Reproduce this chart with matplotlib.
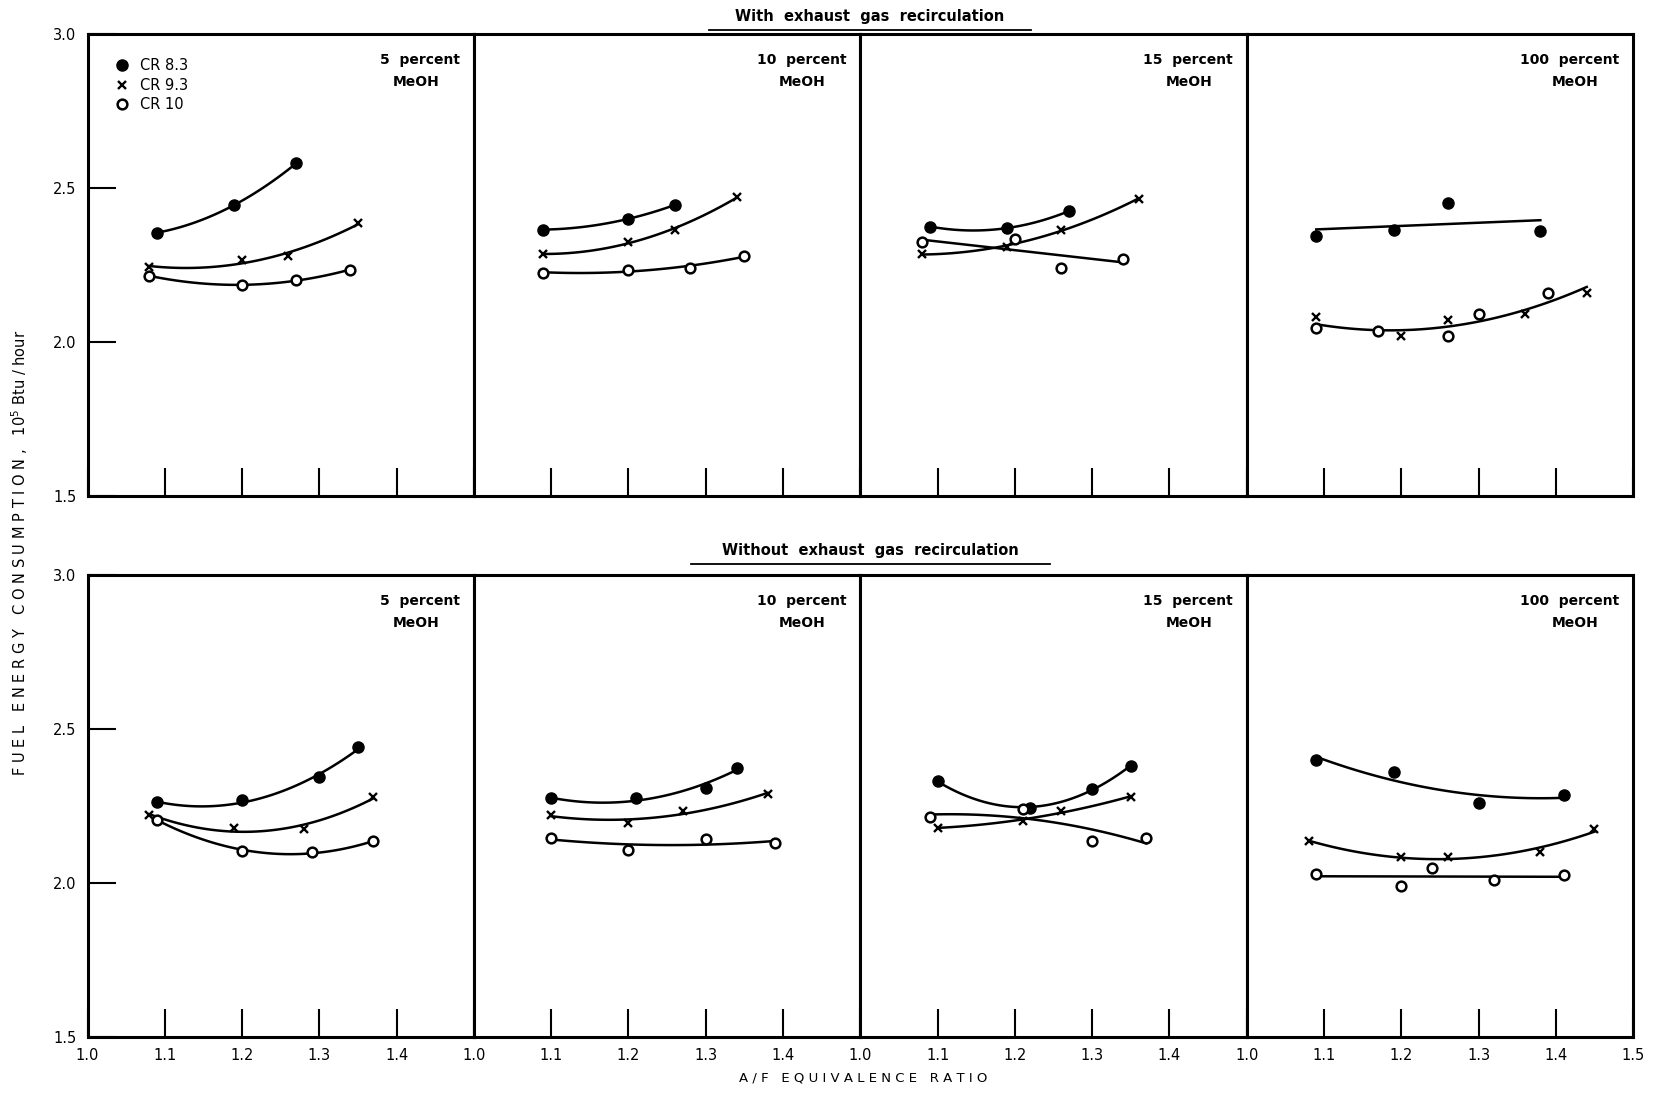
import numpy as np
import matplotlib
matplotlib.use('Agg')
import matplotlib.pyplot as plt
from matplotlib.lines import Line2D
from matplotlib.ticker import FormatStrFormatter

# A/F equivalence ratio (x) vs fuel energy consumption, 10^5 Btu/hr (y)
# each panel: [CR 8.3, CR 9.3, CR 10]
mix_pct = ['5', '10', '15', '100']
cr_labels = ['CR 8.3', 'CR 9.3', 'CR 10']
row_titles = ['With exhaust gas recirculation', 'Without exhaust gas recirculation']

# --- with exhaust gas recirculation ---
egr05_x = [[1.09, 1.19, 1.27], [1.08, 1.20, 1.26, 1.35], [1.08, 1.20, 1.27, 1.34]]
egr05_y = [[2.355, 2.445, 2.58], [2.245, 2.265, 2.28, 2.385], [2.215, 2.185, 2.20, 2.235]]
egr10_x = [[1.09, 1.20, 1.26], [1.09, 1.20, 1.26, 1.34], [1.09, 1.20, 1.28, 1.35]]
egr10_y = [[2.365, 2.40, 2.445], [2.285, 2.325, 2.365, 2.47], [2.225, 2.235, 2.24, 2.28]]
egr15_x = [[1.09, 1.19, 1.27], [1.08, 1.19, 1.26, 1.36], [1.08, 1.20, 1.26, 1.34]]
egr15_y = [[2.375, 2.37, 2.425], [2.285, 2.31, 2.365, 2.465], [2.325, 2.335, 2.24, 2.27]]
egr100_x = [[1.09, 1.19, 1.26, 1.38], [1.09, 1.20, 1.26, 1.36, 1.44], [1.09, 1.17, 1.26, 1.30, 1.39]]
egr100_y = [[2.345, 2.365, 2.45, 2.36], [2.08, 2.02, 2.07, 2.09, 2.16], [2.045, 2.035, 2.02, 2.09, 2.16]]

# --- without exhaust gas recirculation ---
noegr05_x = [[1.09, 1.20, 1.30, 1.35], [1.08, 1.19, 1.28, 1.37], [1.09, 1.20, 1.29, 1.37]]
noegr05_y = [[2.262, 2.268, 2.343, 2.44], [2.22, 2.18, 2.175, 2.28], [2.205, 2.105, 2.10, 2.135]]
noegr10_x = [[1.10, 1.21, 1.30, 1.34], [1.10, 1.20, 1.27, 1.38], [1.10, 1.20, 1.30, 1.39]]
noegr10_y = [[2.275, 2.275, 2.31, 2.375], [2.22, 2.195, 2.235, 2.29], [2.147, 2.108, 2.143, 2.13]]
noegr15_x = [[1.10, 1.22, 1.30, 1.35], [1.10, 1.21, 1.26, 1.35], [1.09, 1.21, 1.30, 1.37]]
noegr15_y = [[2.33, 2.245, 2.305, 2.38], [2.18, 2.20, 2.235, 2.28], [2.215, 2.24, 2.135, 2.145]]
noegr100_x = [[1.09, 1.19, 1.30, 1.41], [1.08, 1.20, 1.26, 1.38, 1.45], [1.09, 1.20, 1.24, 1.32, 1.41]]
noegr100_y = [[2.40, 2.36, 2.26, 2.285], [2.135, 2.085, 2.085, 2.10, 2.175], [2.03, 1.99, 2.05, 2.01, 2.025]]

# degree of faired curve per series (0 = points only)
egr_fit = [[2, 2, 2], [2, 2, 2], [2, 2, 1], [1, 2, 0]]
noegr_fit = [[2, 2, 2], [2, 2, 2], [2, 2, 2], [2, 2, 1]]
# panels where CR 9.3 and CR 10 share a single faired curve (row, col)
pooled = [(0, 3)]

rows = [
    ([egr05_x, egr10_x, egr15_x, egr100_x], [egr05_y, egr10_y, egr15_y, egr100_y], egr_fit),
    ([noegr05_x, noegr10_x, noegr15_x, noegr100_x], [noegr05_y, noegr10_y, noegr15_y, noegr100_y], noegr_fit),
]

markers = [
    dict(marker='o', markersize=8, markerfacecolor='black', markeredgecolor='black'),
    dict(marker='x', markersize=6, markeredgewidth=1.7, color='black'),
    dict(marker='o', markersize=7, markerfacecolor='white', markeredgecolor='black', markeredgewidth=1.8),
]


def spaced(s):
    return '   '.join(' '.join(w) for w in s.split(' '))


fig = plt.figure(figsize=(16.54, 10.95), dpi=100)

left = 87.5 / 1654
pw = 386.4 / 1654
ph = 462 / 1095
row_bottom = [1 - 496 / 1095, 1 - 1037 / 1095]

for r, (xs_row, ys_row, fit_row) in enumerate(rows):
    for c in range(4):
        ax = fig.add_axes([left + c * pw, row_bottom[r], pw, ph])
        ax.set_xlim(1.0, 1.5)
        ax.set_ylim(1.5, 3.0)
        for k in range(3):
            x = np.array(xs_row[c][k])
            y = np.array(ys_row[c][k])
            deg = fit_row[c][k]
            if (r, c) in pooled and k == 1:
                x = np.concatenate([x, xs_row[c][2]])
                y = np.concatenate([y, ys_row[c][2]])
            if deg:
                p = np.polyfit(x, y, deg)
                xx = np.linspace(x.min(), x.max(), 100)
                ax.plot(xx, np.polyval(p, xx), color='black', lw=1.8, zorder=2)
            ax.plot(xs_row[c][k], ys_row[c][k], linestyle='none', zorder=3, **markers[k])

        for sp in ax.spines.values():
            sp.set_linewidth(2.2)
        ax.tick_params(direction='in', length=20, width=1.5, labelsize=10.5, pad=8)
        ax.set_xticks([1.0, 1.1, 1.2, 1.3, 1.4] + ([1.5] if c == 3 else []))
        ax.xaxis.set_major_formatter(FormatStrFormatter('%.1f'))
        if r == 0:
            ax.tick_params(labelbottom=False)
        if c == 0:
            ax.set_yticks([1.5, 2.0, 2.5, 3.0])
            ax.yaxis.set_major_formatter(FormatStrFormatter('%.1f'))
        else:
            ax.set_yticks([])

        ax.text(0.965, 0.944, mix_pct[c] + '  percent', transform=ax.transAxes,
                ha='right', va='center', fontsize=10, fontweight='bold')
        ax.text(0.85, 0.896, 'MeOH', transform=ax.transAxes,
                ha='center', va='center', fontsize=10, fontweight='bold')

        if r == 0 and c == 0:
            handles = [Line2D([], [], linestyle='none', **m) for m in markers]
            ax.legend(handles, cr_labels, loc='upper left', bbox_to_anchor=(0.06, 0.96),
                      frameon=False, handletextpad=0.8, labelspacing=0.3,
                      handlelength=0.8, borderaxespad=0, prop={'size': 10.5})

# row headings, underlined
title_y = [1 - 17 / 1095, 1 - 551 / 1095]
line_y = [1 - 30 / 1095, 1 - 564 / 1095]
line_x = [(709 / 1654, 1031 / 1654), (691 / 1654, 1050 / 1654)]
for t, ty, ly, lx in zip(row_titles, title_y, line_y, line_x):
    fig.text(sum(lx) / 2, ty, '  '.join(t.split(' ')), ha='center', va='center',
             fontsize=10.5, fontweight='bold')
    fig.add_artist(Line2D(lx, [ly, ly], transform=fig.transFigure, color='black', lw=1.3))

fig.text(863 / 1654, 1 - 1078 / 1095, spaced('A/F EQUIVALENCE RATIO'),
         ha='center', va='center', fontsize=9.5)
fig.text(20 / 1654, 0.495, spaced('FUEL ENERGY CONSUMPTION,') + r'   10$^5$ Btu / hour',
         ha='center', va='center', rotation=90, fontsize=10.5)

fig.savefig('out.png', dpi=100)
